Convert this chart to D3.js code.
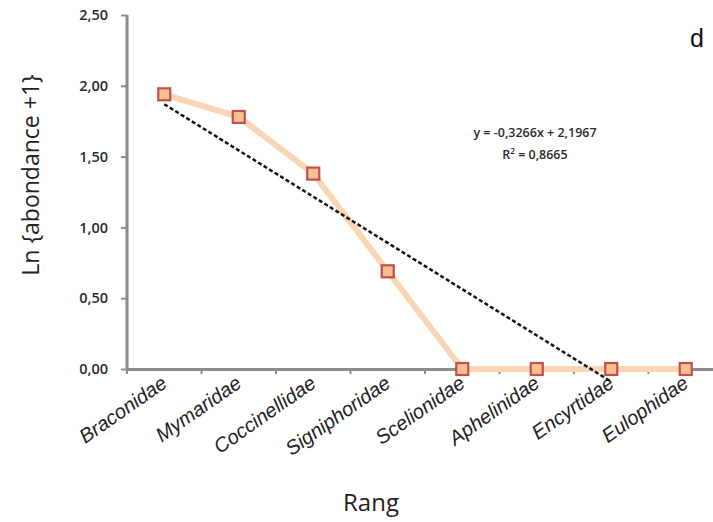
<!DOCTYPE html>
<html>
<head>
<meta charset="utf-8">
<script src="https://cdn.jsdelivr.net/npm/d3@7"></script>
<style>
body { margin: 0; background: #fff; }
</style>
</head>
<body>
<svg id="chart"></svg>
<script>
var families = ["Braconidae", "Mymaridae", "Coccinellidae", "Signiphoridae", "Scelionidae", "Aphelinidae", "Encyrtidae", "Eulophidae"];
var lnAbundance = [1.94, 1.78, 1.38, 0.69, 0, 0, 0, 0];
var yTicks = [0, 0.5, 1, 1.5, 2, 2.5];
var trendSlope = -0.3266, trendIntercept = 2.1967, trendR2 = 0.8665;
var trendRange = [1, 7];

var W = 713, H = 522,
	margin = {top: 15, right: 0, bottom: 153, left: 127},
	bandW = 74.5,
	height = H - margin.top - margin.bottom;

var svg = d3.select("#chart").attr("width", W).attr("height", H);
var g = svg.append("g").attr("transform", "translate(" + margin.left + "," + margin.top + ")");

var x = d3.scaleBand().domain(families).range([0, bandW * families.length]);
// rank scale for the trend line (1..n at band centres)
var xr = d3.scaleLinear().domain([1, families.length])
	.range([x(families[0]) + bandW / 2, x(families[families.length - 1]) + bandW / 2]);
var y = d3.scaleLinear().domain([0, 2.5]).range([height, 0]);

var comma = function(s) { return String(s).replace(".", ","); };
var fmt = function(d) { return comma(d3.format(".2f")(d)); };

var yAxis = g.append("g")
	.call(d3.axisLeft(y).tickValues(yTicks).tickFormat(fmt).tickSize(6).tickPadding(13));
yAxis.select(".domain").attr("stroke", "#8c8c8c").attr("stroke-width", 3).attr("d", "M0," + y(2.5) + "V" + height);
yAxis.selectAll(".tick line").attr("stroke", "#8c8c8c").attr("stroke-width", 2);
yAxis.selectAll("text").style("font-family", "'Open Sans', sans-serif").style("font-size", "14.5px")
	.style("font-weight", "600").attr("fill", "#2b2b2b");

var xAxis = g.append("g").attr("transform", "translate(0," + height + ")")
	.call(d3.axisBottom(x).tickValues([]).tickSizeOuter(0));
xAxis.select(".domain").attr("stroke", "#8c8c8c").attr("stroke-width", 3);
// category boundary ticks
xAxis.selectAll(".bt").data(families).enter().append("line")
	.attr("x1", function(d) { return x(d); }).attr("x2", function(d) { return x(d); })
	.attr("y1", 0).attr("y2", 5).attr("stroke", "#8c8c8c").attr("stroke-width", 2);

xAxis.selectAll(".lbl").data(families).enter().append("text")
	.attr("transform", function(d) { return "translate(" + (x(d) + bandW / 2 + 4) + ",17) rotate(-35)"; })
	.attr("text-anchor", "end")
	.style("font-family", "'Liberation Sans', Arial, sans-serif").style("font-size", "20px")
	.style("font-style", "italic").attr("fill", "#222")
	.text(function(d) { return d; });

var line = d3.line()
	.x(function(d, i) { return x(families[i]) + bandW / 2; })
	.y(function(d) { return y(d); });

g.append("path").datum(lnAbundance)
	.attr("d", line).attr("fill", "none")
	.attr("stroke", "#fcd5b4").attr("stroke-width", 6).attr("stroke-linejoin", "round");

g.append("line")
	.attr("x1", xr(trendRange[0])).attr("y1", y(trendSlope * trendRange[0] + trendIntercept))
	.attr("x2", xr(trendRange[1])).attr("y2", y(trendSlope * trendRange[1] + trendIntercept))
	.attr("stroke", "#111").attr("stroke-width", 2.5).attr("stroke-dasharray", "4,2.5");

g.selectAll(".pt").data(lnAbundance).enter().append("rect")
	.attr("x", function(d, i) { return x(families[i]) + bandW / 2 - 6; })
	.attr("y", function(d) { return y(d) - 6; })
	.attr("width", 12).attr("height", 12)
	.attr("fill", "#fac08f").attr("stroke", "#c0504d").attr("stroke-width", 2.2);

var eq = svg.append("text").attr("text-anchor", "middle")
	.style("font-family", "'Open Sans', sans-serif").style("font-size", "12.5px")
	.style("font-weight", "600").attr("fill", "#2b2b2b");
eq.append("tspan").attr("x", 535).attr("y", 137)
	.text("y = " + comma(trendSlope) + "x + " + comma(trendIntercept));
var r2 = eq.append("tspan").attr("x", 535).attr("y", 159).text("R");
r2.append("tspan").attr("dy", -5).style("font-size", "8px").text("2");
r2.append("tspan").attr("dy", 5).text(" = " + comma(trendR2));

svg.append("text")
	.attr("transform", "translate(39,175) rotate(-90)")
	.attr("text-anchor", "middle")
	.style("font-family", "'Open Sans', sans-serif").style("font-size", "23px").attr("fill", "#222")
	.text("Ln {abondance  +1}");

svg.append("text").attr("x", 371).attr("y", 511).attr("text-anchor", "middle")
	.style("font-family", "'Open Sans', sans-serif").style("font-size", "24px").attr("fill", "#222")
	.text("Rang");

svg.append("text").attr("x", 690).attr("y", 47)
	.style("font-family", "'Liberation Sans', Arial, sans-serif").style("font-size", "25px").attr("fill", "#111")
	.text("d");
</script>
</body>
</html>
